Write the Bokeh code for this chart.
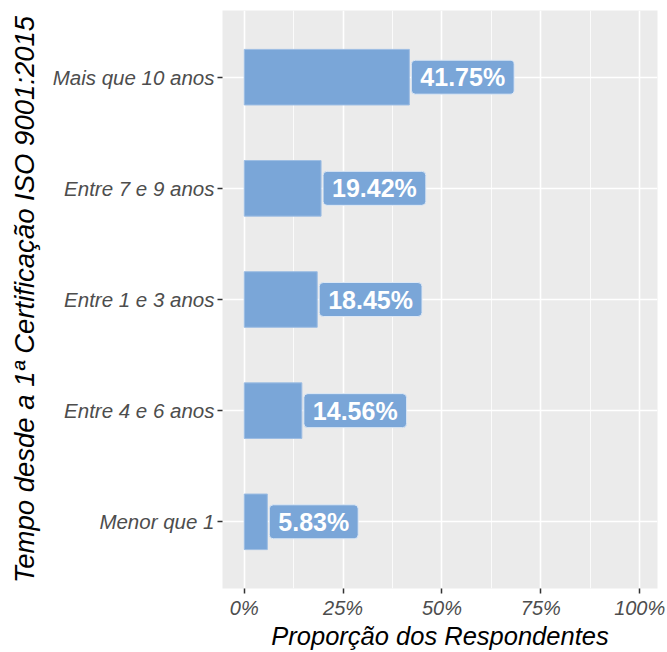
from bokeh.plotting import figure
from bokeh.models import ColumnDataSource, FactorRange, Range1d, FixedTicker
from bokeh.core.properties import value
from bokeh.embed import file_html
from bokeh.resources import INLINE

categories = ["Menor que 1", "Entre 4 e 6 anos", "Entre 1 e 3 anos", "Entre 7 e 9 anos", "Mais que 10 anos"]
proportions = [5.83, 14.56, 18.45, 19.42, 41.75]
labels = ["5.83%", "14.56%", "18.45%", "19.42%", "41.75%"]
x_ticks = [0, 25, 50, 75, 100]
x_tick_labels = ["0%", "25%", "50%", "75%", "100%"]
x_minor = [12.5, 37.5, 62.5, 87.5]

BAR = "#7AA6D8"
FONT = "Liberation Sans"

src = ColumnDataSource(dict(cat=categories, val=proportions, lab=labels))

yr = FactorRange(factors=categories, range_padding=0.1, range_padding_units="absolute")
p = figure(width=667, height=652, y_range=yr, x_range=Range1d(-5.5, 104.5),
           output_backend="svg", toolbar_location=None,
           min_border_left=222, min_border_right=10, min_border_top=10, min_border_bottom=62)
p.background_fill_color = "#EBEBEB"
p.border_fill_color = "white"
p.outline_line_color = None

p.hbar(y="cat", right="val", left=0, height=0.5, source=src,
       fill_color=BAR, line_color="#9DBDE3", line_width=1)

p.text(x="val", y="cat", text="lab", source=src, x_offset=2,
       text_align="left", text_baseline="middle",
       text_color="white", text_font=value(FONT), text_font_style="bold",
       text_font_size="25px",
       background_fill_color=BAR, border_line_color="#DDE8F5", border_line_width=1,
       padding=(9, 3), border_radius=4)

p.xaxis.ticker = FixedTicker(ticks=x_ticks, minor_ticks=x_minor)
p.xaxis.major_label_overrides = {t: l for t, l in zip(x_ticks, x_tick_labels)}

for ax in (p.xaxis[0], p.yaxis[0]):
    ax.axis_line_color = None
    ax.major_tick_line_color = "#333333"
    ax.major_tick_line_width = 1.5
    ax.major_tick_out = 5
    ax.major_tick_in = 0
    ax.minor_tick_line_color = None
    ax.major_label_text_font = FONT
    ax.major_label_text_font_style = "italic"
    ax.major_label_text_font_size = "20px"
    ax.major_label_text_color = "#4D4D4D"
    ax.axis_label_text_font = FONT
    ax.axis_label_text_font_style = "italic"
    ax.axis_label_text_font_size = "25.5px"
    ax.axis_label_text_color = "black"

p.yaxis.major_label_text_font_size = "20.5px"
p.yaxis.axis_label_text_font_size = "27.5px"
p.xaxis.axis_label = "Proporção dos Respondentes"
p.yaxis.axis_label = "Tempo desde a 1ª Certificação ISO 9001:2015"
p.xaxis.major_label_standoff = 3
p.yaxis.major_label_standoff = 3
p.xaxis.axis_label_standoff = 0
p.yaxis.axis_label_standoff = 10

p.xgrid.grid_line_color = "white"
p.xgrid.grid_line_width = 1.6
p.xgrid.minor_grid_line_color = "white"
p.xgrid.minor_grid_line_width = 0.8
p.ygrid.grid_line_color = "white"
p.ygrid.grid_line_width = 1.6

open("out.html", "w").write(file_html(p, INLINE))
